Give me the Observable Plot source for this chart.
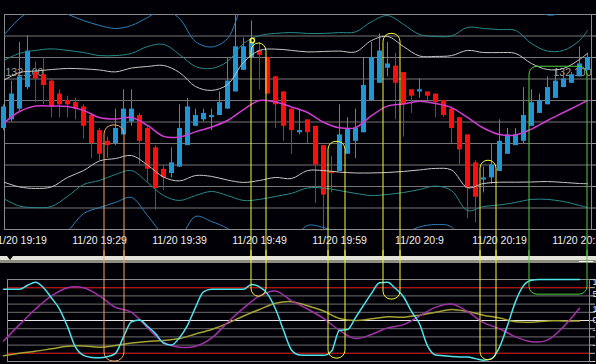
<!DOCTYPE html>
<html><head><meta charset="utf-8">
<script src="https://cdn.jsdelivr.net/npm/d3@7"></script>
<script src="https://cdn.jsdelivr.net/npm/@observablehq/plot@0.6"></script>
<style>
html,body{margin:0;padding:0;background:#000;}
#wrap{position:relative;width:596px;height:364px;overflow:hidden;background:#000006;}
.panel{position:absolute;left:0;width:596px;overflow:hidden;}
#sep{position:absolute;left:0;top:256px;width:596px;height:7px;background:linear-gradient(#e2e2d8 0,#e2e2d8 4px,#8c8c82 4px,#8c8c82 7px);}
#tri{position:absolute;left:7px;top:0px;width:0;height:0;border-left:3px solid transparent;border-right:3px solid transparent;border-top:4px solid #000;}
#dash{position:absolute;left:579px;top:5px;width:14px;height:1px;background:#fff;}
</style></head><body>
<div id="wrap">
  <div id="top" class="panel" style="top:0;height:256px"></div>
  <div id="sep"><div id="tri"></div><div id="dash"></div></div>
  <div id="bot" class="panel" style="top:250px;height:114px"></div>
</div>
<script>
// ---------- data ----------
const timeLabels = ["11/20 19:19","11/20 19:29","11/20 19:39","11/20 19:49","11/20 19:59","11/20 20:9","11/20 20:19","11/20 20:29"];
const timeLabelIndex = [2,12,22,32,42,52,62,72];

const open = [132.077,132.081,132.086,132.096,132.103,132.102,132.099,132.093,132.090,132.089,
132.087,132.083,132.076,132.071,132.070,132.074,132.080,132.083,132.077,132.068,
132.058,132.056,132.059,132.069,132.078,132.081,132.082,132.083,132.086,132.094,
132.104,132.110,132.113,132.110,132.101,132.094,132.086,132.075,132.081,132.078,
132.069,132.057,132.057,132.065,132.071,132.075,132.090,132.098,132.105,132.106,
132.103,132.095,132.094,132.094,132.093,132.090,132.086,132.082,132.074,132.061,
132.053,132.054,132.057,132.065,132.069,132.071,132.078,132.084,132.088,132.091,
132.096,132.098,132.101,132.104];
const high = [132.088,132.099,132.117,132.120,132.108,132.110,132.100,132.095,132.092,132.091,
132.088,132.084,132.077,132.073,132.086,132.095,132.095,132.084,132.078,132.069,
132.060,132.068,132.088,132.091,132.086,132.086,132.086,132.094,132.110,132.130,
132.119,132.127,132.117,132.110,132.101,132.094,132.086,132.086,132.081,132.078,
132.069,132.064,132.088,132.082,132.086,132.110,132.117,132.121,132.117,132.112,
132.103,132.095,132.100,132.094,132.093,132.090,132.087,132.082,132.074,132.062,
132.059,132.070,132.081,132.077,132.077,132.096,132.095,132.093,132.101,132.104,
132.103,132.103,132.115,132.112];
const low = [132.076,132.080,132.085,132.095,132.089,132.088,132.082,132.082,132.082,132.081,
132.072,132.063,132.062,132.063,132.069,132.074,132.078,132.060,132.052,132.039,
132.048,132.054,132.059,132.069,132.078,132.080,132.076,132.083,132.086,132.094,
132.104,132.110,132.095,132.093,132.077,132.071,132.065,132.074,132.070,132.042,
132.030,132.047,132.057,132.065,132.063,132.075,132.090,132.098,132.101,132.081,
132.073,132.084,132.091,132.090,132.082,132.082,132.070,132.060,132.035,132.033,
132.047,132.051,132.057,132.065,132.069,132.070,132.078,132.084,132.088,132.091,
132.096,132.098,132.101,132.104];
const close = [132.087,132.093,132.101,132.113,132.100,132.097,132.087,132.088,132.088,132.086,
132.078,132.070,132.065,132.069,132.077,132.086,132.086,132.071,132.058,132.049,
132.054,132.061,132.077,132.087,132.083,132.084,132.083,132.089,132.099,132.115,
132.115,132.117,132.111,132.093,132.088,132.078,132.076,132.076,132.075,132.060,
132.046,132.056,132.074,132.077,132.077,132.097,132.110,132.113,132.107,132.098,
132.088,132.092,132.095,132.092,132.089,132.083,132.077,132.067,132.049,132.045,
132.054,132.060,132.071,132.074,132.074,132.083,132.089,132.090,132.096,132.099,
132.100,132.102,132.107,132.110];

const bandIndex = [0,2,4,6,8,10,12,14,16,18,20,22,24,26,28,30,32,34,36,38,40,42,44,46,48,50,52,54,56,58,60,62,64,66,68,70,72,73];
const bandUpper3 = [132.1202,132.1281,132.1328,132.1342,132.1302,132.1272,132.1249,132.1235,132.1249,132.1286,
132.1323,132.1281,132.1174,132.1149,132.1188,132.1356,132.1435,132.1437,132.1430,132.1402,
132.1405,132.1412,132.1407,132.1486,132.1514,132.1442,132.1372,132.1365,132.1374,132.1451,
132.1428,132.1426,132.1416,132.1347,132.1298,132.1314,132.1379,132.1421];
const bandUpper2 = [132.1086,132.1119,132.1133,132.1140,132.1133,132.1123,132.1109,132.1109,132.1119,132.1151,
132.1161,132.1114,132.1058,132.1049,132.1081,132.1165,132.1202,132.1212,132.1216,132.1212,
132.1212,132.1216,132.1219,132.1267,132.1295,132.1254,132.1207,132.1198,132.1200,132.1240,
132.1235,132.1230,132.1226,132.1165,132.1130,132.1133,132.1179,132.1226];
const bandUpper1 = [132.0993,132.1030,132.1037,132.1044,132.1049,132.1047,132.1042,132.1033,132.1051,132.1058,
132.1063,132.1030,132.0965,132.0947,132.0974,132.1077,132.1133,132.1139,132.1133,132.1126,
132.1128,132.1130,132.1126,132.1179,132.1198,132.1151,132.1107,132.1105,132.1109,132.1133,
132.1123,132.1123,132.1119,132.1072,132.1044,132.1049,132.1091,132.1119];
const bandLower1 = [132.0521,132.0498,132.0491,132.0498,132.0542,132.0574,132.0619,132.0630,132.0644,132.0600,
132.0544,132.0526,132.0551,132.0547,132.0530,132.0519,132.0528,132.0542,132.0537,132.0574,
132.0574,132.0567,132.0563,132.0563,132.0565,132.0570,132.0577,132.0584,132.0577,132.0495,
132.0514,132.0520,132.0520,132.0521,132.0523,132.0519,132.0514,132.0513];
const bandLower2 = [132.0444,132.0409,132.0402,132.0407,132.0454,132.0509,132.0528,132.0556,132.0574,132.0519,
132.0458,132.0435,132.0458,132.0477,132.0458,132.0435,132.0440,132.0454,132.0468,132.0493,
132.0493,132.0481,132.0468,132.0458,132.0463,132.0472,132.0486,132.0502,132.0481,132.0388,
132.0407,132.0414,132.0426,132.0440,132.0440,132.0430,132.0412,132.0402];
const bandLower3 = [132.0295,132.0249,132.0226,132.0235,132.0291,132.0374,132.0402,132.0426,132.0449,132.0365,
132.0281,132.0268,132.0361,132.0337,132.0305,132.0249,132.0230,132.0244,132.0249,132.0319,
132.0309,132.0286,132.0281,132.0258,132.0254,132.0281,132.0312,132.0323,132.0312,132.0193,
132.0216,132.0226,132.0230,132.0254,132.0268,132.0263,132.0235,132.0221];
const movingAvg = [132.0793,132.0849,132.0874,132.0874,132.0872,132.0854,132.0821,132.0814,132.0821,132.0784,
132.0733,132.0730,132.0754,132.0777,132.0807,132.0858,132.0900,132.0893,132.0870,132.0844,
132.0799,132.0773,132.0774,132.0830,132.0874,132.0884,132.0897,132.0886,132.0867,132.0821,
132.0772,132.0742,132.0740,132.0767,132.0807,132.0844,132.0881,132.0900];

const priceGrid = [132.03,132.04,132.05,132.06,132.07,132.08,132.09,132.10,132.11,132.12,132.13];
const priceLabel = [132.100];

// lower oscillator panel
const oscFast = [76,76,76,86,93,80,55,28,-15,-65,
-85,-90,-91,-88,-80,-40,-3,1,-14,-32,
-55,-60,-42,-12,32,70,76,76,76,76,
76,88,82,65,28,-24,-72,-84,-85,-85,
-85,-75,-24,-22,7,37,66,92,93,78,
58,22,-8,-62,-84,-86,-88,-89,-89,-93,
-97,-93,-65,-12,46,85,98,100,100,100,
100,100,100];
const oscSlowIndex = [0,2,4,6,8,10,12,14,16,18,20,22,24,26,28,30,32,34,36,38,40,42,44,46,48,50,52,54,56,58,60,62,64,66,68,70,72];
const oscSlow = [-50,-10,28,60,80,80,60,32,20,-18,
-53,-65,-63,-43,-5,30,60,72,48,28,
5,-24,-44,-34,-18,-10,11,32,40,22,
-5,-20,-40,-52,-48,-15,30];
const oscSignal = [-86,-80,-75,-69,-63,-62,-65,-61,-55,-51,
-49,-44,-33,-22,-7,11,27,42,46,36,
23,5,0,4,9,8,13,20,27,22,
13,6,-3,-4,-1,-1,-1];
const oscGrid = [-100,-80,-60,-40,-20,0,20,40,60,80,100];
const oscBands = [80,-80];
const oscLabelValues = [93,65,27,2,-23,-61,-98];
const oscLabelTexts = ["100","50","10","0","-10","-50","-100"];

// highlighted zones (candle index span, price at top, oscillator value at bottom)
const zones = [
  {color:"#f4a466", x1:12.625, x2:15.125, top:132.0784, bottom:-100, r:9},
  {color:"#f6f63a", x1:31.0, x2:32.875, top:132.1165, bottom:58, r:8},
  {color:"#f6f63a", x1:40.625, x2:42.75, top:132.0708, bottom:-93, r:8},
  {color:"#f6f63a", x1:47.5, x2:49.625, top:132.1210, bottom:51, r:8},
  {color:"#f6f63a", x1:59.625, x2:61.625, top:132.0620, bottom:-97, r:8},
  {color:"#4cd03c", x1:65.75, x2:73.0, top:132.1057, bottom:63, r:8}
];
const zoneMarker = [{k:31.1, p:132.1179}];

// ---------- build ----------
const UP = "#1f97d4", DOWN = "#ff0c0c";
const candles = open.map((o,i)=>({i, o, h:high[i], l:low[i], c:close[i]}));
const ups = candles.filter(d=>d.c>=d.o), downs = candles.filter(d=>d.c<d.o);
const rows = (idx, vals) => idx.map((k,i)=>({k, v:vals[i]}));
const fastIndex = oscFast.map((_,i)=>i);

const font = "'Liberation Sans', Arial, sans-serif";
const X = {type:"linear", domain:[0,73], range:[3,587], axis:null};

const bandLine = (vals, stroke) => Plot.line(rows(bandIndex, vals), {x:"k", y:"v", stroke, strokeWidth:1, curve:"catmull-rom", clip:true});

const topPlot = Plot.plot({
  width:596, height:256, marginLeft:4, marginRight:5, marginTop:14, marginBottom:27,
  style:{background:"transparent", color:"#e8e8e8", fontFamily:font, fontSize:"10.5px"},
  x:X,
  y:{domain:[132.03,132.13], range:[229,14], axis:null},
  marks:[
    Plot.ruleY(priceGrid, {stroke:"#767676"}),
    Plot.frame({stroke:"#8a8a8a"}),
    Plot.axisY({anchor:"right", ticks:priceGrid, tickSize:5, stroke:"#9a9a9a", fill:"none"}),
    Plot.axisX({ticks:timeLabelIndex, tickSize:0, tickPadding:7, tickFormat:d=>timeLabels[timeLabelIndex.indexOf(d)], color:"#f0f0f0", fontSize:10.5}),
    Plot.text(priceLabel, {y:d=>d, text:d=>d.toFixed(3), frameAnchor:"left", textAnchor:"start", dx:1, dy:-6, fill:"#9c9c9c", fontSize:10.5}),
    Plot.text(priceLabel, {y:d=>d, text:d=>d.toFixed(3), frameAnchor:"right", textAnchor:"end", dx:0, dy:-6, fill:"#9c9c9c", fontSize:10.5}),
    Plot.ruleX(ups, {x:"i", y1:"l", y2:"h", stroke:UP}),
    Plot.ruleX(ups, {x:"i", y1:"o", y2:"c", stroke:UP, strokeWidth:5}),
    Plot.ruleX(downs, {x:"i", y1:"l", y2:"h", stroke:DOWN}),
    Plot.ruleX(downs, {x:"i", y1:"o", y2:"c", stroke:DOWN, strokeWidth:5}),
    bandLine(bandUpper3, "#2f82b6"),
    bandLine(bandLower3, "#2f82b6"),
    bandLine(bandUpper2, "#2a8a88"),
    bandLine(bandLower2, "#2a8a88"),
    bandLine(bandUpper1, "#c8c8c8"),
    bandLine(bandLower1, "#c8c8c8"),
    Plot.line(rows(bandIndex, movingAvg), {x:"k", y:"v", stroke:"#d23cd2", curve:"catmull-rom", clip:true}),
    ...zones.map(z => Plot.rect([z], {x1:"x1", x2:"x2", y1:"top", y2:()=>131.90, rx:z.r, stroke:z.color, fill:"none"})),
    Plot.dot(zoneMarker, {x:"k", y:"p", r:2.2, stroke:"#f6f63a", fill:"none"})
  ]
});
document.getElementById("top").appendChild(topPlot);

const botPlot = Plot.plot({
  width:596, height:114, marginLeft:7, marginRight:7, marginTop:29, marginBottom:3,
  style:{background:"transparent", color:"#e8e8e8", fontFamily:font, fontSize:"10px"},
  x:X,
  y:{domain:[-100,100], range:[111,29], axis:null},
  marks:[
    Plot.ruleY(oscGrid, {stroke:"#707070"}),
    Plot.ruleY(oscBands, {stroke:"#c80000"}),
    Plot.ruleY([0], {stroke:"#e6e6e6"}),
    Plot.frame({stroke:"#8a8a8a"}),
    Plot.axisY({anchor:"right", ticks:oscGrid, tickSize:5, stroke:"#bdbdbd", fill:"none"}),
    Plot.text(oscLabelValues, {y:d=>d, text:(d,i)=>oscLabelTexts[i], frameAnchor:"right", textAnchor:"start", dx:3, fill:"#e8e8e8", fontSize:9}),
    Plot.line(rows(oscSlowIndex, oscSignal), {x:"k", y:"v", stroke:"#a6a232", curve:"catmull-rom"}),
    Plot.line(rows(oscSlowIndex, oscSlow), {x:"k", y:"v", stroke:"#a332a8", curve:"catmull-rom"}),
    Plot.line(rows(fastIndex, oscFast), {x:"k", y:"v", stroke:"#50e4e8", curve:"monotone-x"}),
    ...zones.map(z => Plot.rect([z], {x1:"x1", x2:"x2", y1:"bottom", y2:()=>300, rx:z.r, stroke:z.color, fill:"none"}))
  ]
});
document.getElementById("bot").appendChild(botPlot);
</script>
</body></html>
